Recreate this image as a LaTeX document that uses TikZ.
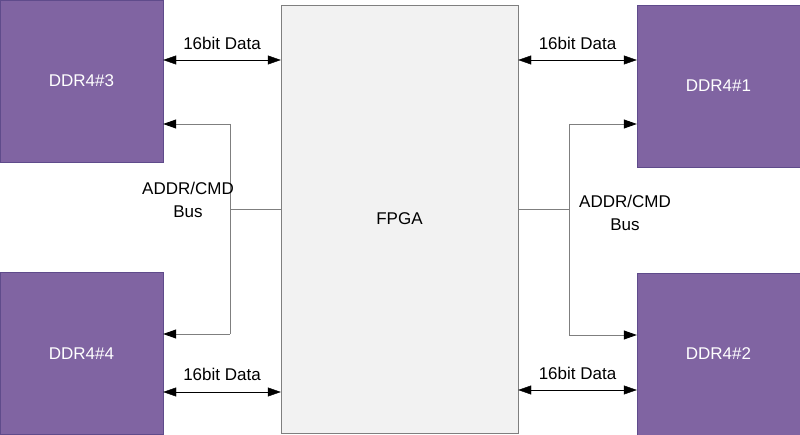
\documentclass[tikz,border=0pt]{standalone}
\usepackage{fontspec}
\setmainfont{Liberation Sans}
\usetikzlibrary{arrows.meta}

\definecolor{ddrfill}{HTML}{8064A2}
\definecolor{ddrline}{HTML}{5F4B8B}
\definecolor{fpgafill}{HTML}{F2F2F2}
\definecolor{busgray}{HTML}{7F7F7F}

\begin{document}
\begin{tikzpicture}[x=1pt, y=-1pt,
    every node/.style={font=\fontsize{17}{23}\selectfont},
    ddr/.style={draw=ddrline, fill=ddrfill, text=white, minimum width=163pt, minimum height=162pt, inner sep=0pt},
    data/.style={black, {Triangle[length=13pt,width=9pt]}-{Triangle[length=13pt,width=9pt]}},
    bus/.style={busgray, thick},
    busarrow/.style={-{Triangle[length=13pt,width=9pt,black]}}]
    \useasboundingbox (0,0) rectangle (800,435);

    % Le FPGA au centre
    \node[draw=busgray, fill=fpgafill, minimum width=237pt, minimum height=428pt, inner sep=0pt] (fpga) at (399.5,219) {FPGA};

    % Les quatre memoires
    \node[ddr] (ddr3) at (81.5,81) {DDR4\#3};
    \node[ddr] (ddr4) at (81.5,353.5) {DDR4\#4};
    \node[ddr] (ddr1) at (718.5,86) {DDR4\#1};
    \node[ddr] (ddr2) at (718.5,354) {DDR4\#2};

    % Bus de donnees 16 bits
    \draw[data] (ddr3.east |- 0,60) -- node[above=7pt] (d3) {16bit Data} (fpga.west |- 0,60);
    \draw[data] (fpga.east |- 0,60) -- node[above=7pt] (d1) {16bit Data} (ddr1.west |- 0,60);
    \draw[data] (ddr4.east |- 0,392) -- node[above=8pt] (d4) {16bit Data} (fpga.west |- 0,392);
    \draw[data] (fpga.east |- 0,390) -- node[above=7pt] (d2) {16bit Data} (ddr2.west |- 0,390);

    % Bus ADDR/CMD a gauche
    \coordinate (busL) at (230,209);
    \coordinate (l1) at (230,124);
    \coordinate (l2) at (230,334);
    \draw[bus] (fpga.west |- busL) -- (busL);
    \draw[bus] (l1) -- (l2);
    \draw[bus, busarrow] (l1) -- (ddr3.east |- l1);
    \draw[bus, busarrow] (l2) -- (ddr4.east |- l2);
    \node[align=center] (addrL) at (188,200) {ADDR/CMD\\Bus};

    % Bus ADDR/CMD a droite
    \coordinate (busR) at (569,209);
    \coordinate (r1) at (569,124);
    \coordinate (r2) at (569,335);
    \draw[bus] (fpga.east |- busR) -- (busR);
    \draw[bus] (r1) -- (r2);
    \draw[bus, busarrow] (r1) -- (ddr1.west |- r1);
    \draw[bus, busarrow] (r2) -- (ddr2.west |- r2);
    \node[align=center] (addrR) at (625,213) {ADDR/CMD\\Bus};
\end{tikzpicture}
\end{document}
